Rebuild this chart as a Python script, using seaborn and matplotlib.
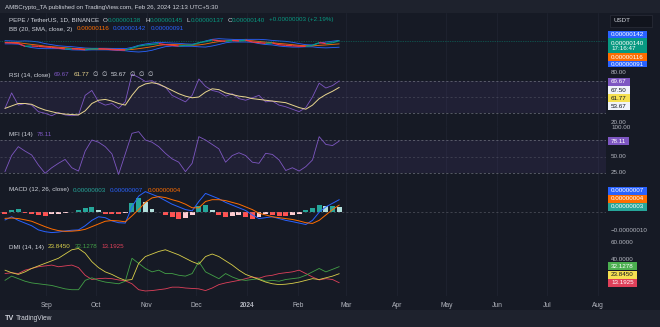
import numpy as np
import pandas as pd
import matplotlib
matplotlib.use("Agg")
import matplotlib.pyplot as plt
from matplotlib.collections import LineCollection
from matplotlib.patches import Rectangle
import matplotlib.dates as mdates
import seaborn as sns

# ---------------- data (daily PEPE/USDT, sampled every ~4 days) ----------------
dates = pd.date_range("2023-08-07", "2024-02-26", periods=51)

# close price, in units of 1e-6 USDT
close = [1.25, 1.23, 1.20, 0.98, 1.00, 0.97, 0.93, 0.89, 0.84, 0.78,
         0.79, 0.76, 0.72, 0.78, 0.80, 0.77, 0.72, 0.70, 0.69, 0.83,
         1.00, 1.07, 1.12, 1.18, 1.10, 1.05, 1.00, 1.05, 1.07, 1.25,
         1.33, 1.45, 1.40, 1.35, 1.42, 1.38, 1.45, 1.30, 1.25, 1.20,
         1.22, 1.10, 1.05, 1.02, 0.98, 0.97, 1.05, 1.25, 1.18, 1.25, 1.40]
bb_upper = [1.40, 1.38, 1.36, 1.38, 1.36, 1.30, 1.18, 1.10, 1.02, 0.98,
            0.95, 0.90, 0.85, 0.83, 0.83, 0.83, 0.82, 0.82, 0.80, 0.90,
            1.05, 1.15, 1.22, 1.28, 1.25, 1.22, 1.20, 1.16, 1.14, 1.22,
            1.38, 1.50, 1.55, 1.52, 1.50, 1.48, 1.50, 1.50, 1.50, 1.47,
            1.42, 1.38, 1.35, 1.28, 1.18, 1.10, 1.08, 1.22, 1.30, 1.36, 1.42]
bb_basis = [1.28, 1.27, 1.25, 1.18, 1.12, 1.06, 0.99, 0.95, 0.91, 0.87,
            0.83, 0.80, 0.77, 0.77, 0.77, 0.77, 0.76, 0.74, 0.72, 0.74,
            0.80, 0.87, 0.95, 1.05, 1.10, 1.11, 1.09, 1.07, 1.06, 1.08,
            1.15, 1.25, 1.33, 1.38, 1.40, 1.39, 1.40, 1.39, 1.34, 1.29,
            1.25, 1.19, 1.15, 1.10, 1.05, 1.02, 1.01, 1.05, 1.08, 1.12, 1.16]
bb_lower = [1.16, 1.16, 1.14, 0.98, 0.88, 0.82, 0.80, 0.80, 0.80, 0.76,
            0.71, 0.70, 0.69, 0.71, 0.71, 0.71, 0.70, 0.66, 0.64, 0.58,
            0.55, 0.59, 0.68, 0.82, 0.95, 1.00, 0.98, 0.98, 0.98, 0.94,
            0.92, 1.00, 1.11, 1.24, 1.30, 1.30, 1.30, 1.28, 1.18, 1.11,
            1.08, 1.00, 0.95, 0.92, 0.92, 0.94, 0.94, 0.88, 0.86, 0.88, 0.91]

rsi = [36, 55, 40, 42, 40, 32, 30, 27, 31, 28,
       27, 28, 52, 58, 44, 40, 42, 36, 44, 78,
       74, 69, 70, 65, 62, 52, 48, 44, 52, 72,
       63, 58, 56, 51, 54, 48, 46, 49, 52, 44,
       45, 40, 38, 35, 32, 37, 50, 67, 61, 64, 69.67]
rsi_ma = [36, 39, 42, 42, 41, 37, 34, 32, 30, 29,
          28.5, 28, 33, 42, 46, 47, 45, 42, 40, 52,
          62, 66, 67.5, 66, 62, 58, 54, 51, 49, 50,
          56, 60, 59, 55, 53, 51, 50, 48, 47, 46,
          45, 44, 43, 40, 37, 35, 40, 48, 53, 57, 61.77]

mfi = [23, 52, 68, 60, 53, 35, 20, 30, 38, 45,
       30, 24, 60, 80, 76, 68, 55, 18, 55, 92,
       95, 80, 76, 68, 56, 46, 40, 23, 38, 86,
       80, 72, 64, 40, 52, 57, 52, 40, 38, 56,
       54, 44, 25, 30, 24, 32, 44, 86, 72, 70, 78.11]

# MACD components, in units of 1e-8 USDT
macd = [-4.3, -2.5, -4.5, -6, -7.5, -9.8, -10.8, -11.3, -11, -10.4,
        -10, -9.8, -7.5, -4.5, -2.5, -3, -4.8, -5.8, -6, 3,
        9, 11.5, 10, 8.5, 6.5, 4.5, 3, 1.5, 0.8, 6,
        10.5, 9, 7.5, 5.5, 4, 2.5, 1, -1.5, -3.5, -3,
        -2.5, -3.5, -4.5, -5.2, -6, -6.8, -4.5, 0, 3, 5, 7]
signal = [-3.4, -3.2, -3.5, -4.2, -5, -6.5, -8, -9.3, -10.2, -10.6,
          -10.5, -10.2, -9.5, -8, -6.5, -5, -4.6, -4.8, -5.3, -2,
          1.5, 5.5, 8, 8.7, 8.2, 7, 6, 4.5, 2.5, 2.5,
          6, 7, 7, 6.5, 5.5, 4.5, 3, 1.5, -0.5, -1.5,
          -2.5, -3, -3.5, -4, -4.8, -5.8, -6.2, -4.5, -1.5, 1.5, 4]
hist = [-1, 1.5, 2, -0.5, -0.8, -1.5, -1.8, -1.2, -0.8, -0.5,
        0.3, 1.5, 2.5, 3, 1, -0.8, -1, -1.2, -0.5, 5,
        7.8, 5.5, 2, 0.3, -1.5, -2.5, -3.5, -3, -1.5, 3.5,
        4, 1, -1.5, -2.5, -2, -1.5, -2.5, -3.5, -2.5, -1,
        -1.5, -2, -2, -1.5, -1, 1, 2.5, 4, 3.5, 3.5, 3]

adx = [28, 25, 23, 26, 30, 33, 36, 39, 42, 47,
       52, 53.5, 48, 38, 31, 26, 23, 19, 16, 17,
       36, 44, 47, 50, 52, 49, 46, 42, 38, 35,
       44, 47, 44, 39, 34, 28, 23, 20, 17, 14,
       12, 11, 11.5, 12.5, 14, 16, 18, 17, 19, 21, 23.845]
di_plus = [16, 21, 18, 15, 13, 12, 11, 10, 8, 6,
           5, 5, 16, 19, 16, 14, 13, 12, 15, 42,
           36, 30, 26, 28, 24, 24, 22, 21, 24, 38,
           26, 22, 18, 24, 20, 17, 16, 17, 18, 15,
           16, 15, 17, 18, 19, 22, 26, 30, 26, 29, 32.1278]
di_minus = [24, 25, 24, 28, 30, 32, 33, 34, 32, 33,
            34, 31, 22, 17, 18, 18.5, 18, 16.5, 15.5, 12,
            5, 3.5, 4, 5, 6, 8, 8, 7, 6.5, 6,
            4, 7, 11, 13, 14.5, 16, 18, 20, 18.5, 21,
            22, 24, 25, 26, 28, 24, 20, 16.5, 18, 17, 13.1925]

month_ticks = pd.to_datetime(["2023-09-01", "2023-10-01", "2023-11-01", "2023-12-01",
                              "2024-01-01", "2024-02-01", "2024-03-01", "2024-04-01",
                              "2024-05-01", "2024-06-01", "2024-07-01", "2024-08-01"])
month_labels = ["Sep", "Oct", "Nov", "Dec", "2024", "Feb", "Mar", "Apr", "May", "Jun", "Jul", "Aug"]

# ---------------- style ----------------
W, H = 660, 327
BG = "#161a25"
BAR = "#1e222d"
FG = "#d1d4dc"
AXC = "#b2b5be"
GRID = "#1f2330"
GREEN = "#089981"
RED = "#f23645"
BLUE = "#2962ff"
ORANGE = "#ff6d00"
PURPLE = "#7e57c2"
MA_YEL = "#e9d68f"
TEAL = "#26a69a"
ADX_C = "#d9cf4a"
DIP_C = "#43a047"
DIM_C = "#e0405a"
BAND = "#787b86"

sns.set_theme(style="dark", rc={"axes.facecolor": BG, "figure.facecolor": BG})
plt.rcParams["font.family"] = ["Liberation Sans", "DejaVu Sans"]

fig = plt.figure(figsize=(W / 100, H / 100), dpi=100, facecolor=BG)
renderer = fig.canvas.get_renderer()

x_left, x_right = pd.Timestamp("2023-08-04"), pd.Timestamp("2024-08-06")


def pane(top, bottom, ylim):
    ax = fig.add_axes([0, 1 - bottom / H, 606 / W, (bottom - top) / H])
    ax.set_facecolor(BG)
    for s in ax.spines.values():
        s.set_visible(False)
    ax.set_xlim(x_left, x_right)
    ax.set_ylim(*ylim)
    ax.set_xticks(month_ticks)
    ax.set_yticks([])
    ax.tick_params(length=0, labelbottom=False, labelleft=False)
    ax.grid(True, axis="x", color=GRID, lw=0.6)
    ax.grid(False, axis="y")
    return ax


def finish(ax):
    ax.set_xlabel("")
    ax.set_ylabel("")
    ax.set_xlim(x_left, x_right)
    ax.set_xticks(month_ticks)
    ax.tick_params(length=0, labelbottom=False, labelleft=False)


# header / footer bars
fig.patches.append(Rectangle((0, 1 - 13 / H), 1, 13 / H, transform=fig.transFigure,
                             fc=BAR, ec="none", zorder=0))
fig.patches.append(Rectangle((0, 0), 1, 17 / H, transform=fig.transFigure,
                             fc=BAR, ec="none", zorder=0))

# ---------------- price pane with Bollinger Bands ----------------
ax_p = pane(13, 62, (-0.2, 3.475))
ax_p.fill_between(dates, bb_lower, bb_upper, color="#2196f3", alpha=0.06, lw=0)
sns.lineplot(x=dates, y=bb_upper, ax=ax_p, color=BLUE, lw=0.6)
sns.lineplot(x=dates, y=bb_lower, ax=ax_p, color=BLUE, lw=0.6)
sns.lineplot(x=dates, y=bb_basis, ax=ax_p, color=ORANGE, lw=0.6)
xn = mdates.date2num(dates)
segs = [[(xn[i - 1], close[i - 1]), (xn[i], close[i])] for i in range(1, len(close))]
seg_cols = [GREEN if close[i] >= close[i - 1] else RED for i in range(1, len(close))]
ax_p.add_collection(LineCollection(segs, colors=seg_cols, linewidths=0.9, zorder=3))
ax_p.axhline(close[-1], color=GREEN, ls=(0, (1, 1.5)), lw=0.5, alpha=0.8)
finish(ax_p)

# ---------------- RSI pane ----------------
ax_r = pane(62, 126, (14.4, 92.9))
ax_r.axhspan(30, 70, color=PURPLE, alpha=0.1, lw=0)
for lvl, a in [(70, 0.9), (50, 0.45), (30, 0.9)]:
    ax_r.axhline(lvl, color=BAND, ls=(0, (3, 3)), lw=0.5, alpha=a)
sns.lineplot(x=dates, y=rsi, ax=ax_r, color=PURPLE, lw=0.6)
sns.lineplot(x=dates, y=rsi_ma, ax=ax_r, color=MA_YEL, lw=0.7)
finish(ax_r)

# ---------------- MFI pane ----------------
ax_m = pane(126, 181, (6.1, 105.2))
ax_m.axhspan(20, 80, color=PURPLE, alpha=0.1, lw=0)
for lvl, a in [(80, 0.9), (50, 0.45), (20, 0.9)]:
    ax_m.axhline(lvl, color=BAND, ls=(0, (3, 3)), lw=0.5, alpha=a)
sns.lineplot(x=dates, y=mfi, ax=ax_m, color=PURPLE, lw=0.6)
finish(ax_m)

# ---------------- MACD pane ----------------
ax_c = pane(181, 236, (-13.2, 17.4))
ax_c.axhline(0, color=BAND, ls=(0, (3, 3)), lw=0.5, alpha=0.6)
hist_cols = []
for i, v in enumerate(hist):
    prev = hist[i - 1] if i else v
    if v >= 0:
        hist_cols.append("#26a69a" if v >= prev else "#b2dfdb")
    else:
        hist_cols.append("#ff5252" if v <= prev else "#ffcdd2")
ax_c.bar(dates, hist, width=3.0, color=hist_cols, lw=0)
sns.lineplot(x=dates, y=macd, ax=ax_c, color=BLUE, lw=0.7)
sns.lineplot(x=dates, y=signal, ax=ax_c, color=ORANGE, lw=0.7)
finish(ax_c)

# ---------------- DMI pane ----------------
ax_d = pane(236, 296, (-2.4, 68.2))
sns.lineplot(x=dates, y=di_minus, ax=ax_d, color=DIM_C, lw=0.6)
sns.lineplot(x=dates, y=di_plus, ax=ax_d, color=DIP_C, lw=0.6)
sns.lineplot(x=dates, y=adx, ax=ax_d, color=ADX_C, lw=0.6)
finish(ax_d)
ax_d.tick_params(labelbottom=True, labelsize=4.8, colors=AXC, pad=4.5)
ax_d.set_xticklabels(month_labels)
for lab in ax_d.get_xticklabels():
    lab.set_color(AXC)
    if lab.get_text() == "2024":
        lab.set_fontweight("bold")


# ---------------- text helpers ----------------
def put(px, py, s, color, size=4.5, weight="normal"):
    t = fig.text(px / W, 1 - py / H, s, color=color, fontsize=size,
                 va="center", ha="left", fontweight=weight, zorder=6)
    return t.get_window_extent(renderer).width


def runs(px, py, parts, gap=4, size=4.5):
    x = px
    for s, c in parts:
        x += put(x, py, s, c, size) + gap
    return x


def tag(py, s, fc, tc="#ffffff", h=8, size=4.5):
    t = fig.text(611 / W, 1 - py / H, s, color=tc, fontsize=size, va="center",
                 ha="left", zorder=6, linespacing=1.1)
    w = t.get_window_extent(renderer).width
    fig.patches.append(Rectangle((608 / W, 1 - (py + h / 2) / H), (w + 6) / W, h / H,
                                 transform=fig.transFigure, fc=fc, ec="none", zorder=5))


def fmt_e(v, scale):
    return f"{v * scale:.8f}"


# header lines
put(5, 7, "AMBCrypto_TA published on TradingView.com, Feb 26, 2024 12:13 UTC+5:30", FG, 4.4)
x0 = runs(9, 20, [("PEPE / TetherUS, 1D, BINANCE", FG)], gap=4)
for letter, val in [("O", "0.00000138"), ("H", "0.00000145"), ("L", "0.00000137"),
                    ("C", fmt_e(close[-1], 1e-6))]:
    x0 += put(x0, 20, letter, FG)
    x0 += put(x0, 20, val, GREEN) + 4
put(x0, 20, "+0.00000003 (+2.19%)", GREEN)
runs(9, 29, [("BB (20, SMA, close, 2)", FG), (fmt_e(bb_basis[-1], 1e-6), ORANGE),
             (fmt_e(bb_upper[-1], 1e-6), BLUE), (fmt_e(bb_lower[-1], 1e-6), BLUE)])

runs(9, 75, [("RSI (14, close)", FG), (f"{rsi[-1]:.2f}", PURPLE), (f"{rsi_ma[-1]:.2f}", MA_YEL),
             ("\u2205", FG), ("\u2205", FG), ("53.67", FG), ("\u2205", FG), ("\u2205", FG),
             ("\u2205", FG)], gap=3.5)
runs(9, 134, [("MFI (14)", FG), (f"{mfi[-1]:.2f}", PURPLE)])
runs(9, 190, [("MACD (12, 26, close)", FG), (fmt_e(hist[-1], 1e-8), TEAL),
              (fmt_e(macd[-1], 1e-8), BLUE), (fmt_e(signal[-1], 1e-8), ORANGE)])
runs(9, 247, [("DMI (14, 14)", FG), (f"{adx[-1]:.4f}", ADX_C), (f"{di_plus[-1]:.4f}", DIP_C),
              (f"{di_minus[-1]:.4f}", DIM_C)])

# right-hand price scale
fig.patches.append(Rectangle((610 / W, 1 - 27 / H), 42 / W, 12 / H, transform=fig.transFigure,
                             fc="#11141d", ec="#2a2e39", lw=0.5, zorder=4))
put(614, 21, "USDT", FG, 4.5)
tag(34.8, fmt_e(bb_upper[-1], 1e-6), BLUE)
tag(45.8, fmt_e(close[-1], 1e-6) + "\n17:16:47", GREEN, h=15)
tag(57.2, fmt_e(bb_basis[-1], 1e-6), ORANGE)
tag(64.0, fmt_e(bb_lower[-1], 1e-6), BLUE, h=5.5)

put(611, 73, "80.00", AXC)
tag(81.7, f"{rsi[-1]:.2f}", PURPLE)
tag(90.0, "67.50", "#f0f3fa", tc="#131722")
tag(98.0, f"{rsi_ma[-1]:.2f}", "#f5e050", tc="#131722")
tag(106.0, "53.67", "#f0f3fa", tc="#131722")
put(611, 122, "20.00", AXC)

put(611, 128, "100.00", AXC)
tag(141.2, f"{mfi[-1]:.2f}", PURPLE)
put(611, 157, "50.00", AXC)
put(611, 172, "25.00", AXC)

tag(190.5, fmt_e(macd[-1], 1e-8), BLUE)
tag(198.5, fmt_e(signal[-1], 1e-8), ORANGE)
tag(206.5, fmt_e(hist[-1], 1e-8), TEAL)
put(611, 230, "\u22120.00000010", AXC)

put(611, 243, "60.0000", AXC)
put(611, 259.5, "40.0000", AXC)
tag(266.2, f"{di_plus[-1]:.4f}", "#4caf50")
tag(274.6, f"{adx[-1]:.4f}", "#f5e050", tc="#131722")
tag(283.0, f"{di_minus[-1]:.4f}", DIM_C)

# footer logo
put(5, 318.5, "TV", "#d1d4dc", 5.2, weight="bold")
put(16, 318.5, "TradingView", "#d1d4dc", 4.8)

fig.savefig("out.png", dpi=100, facecolor=BG)
